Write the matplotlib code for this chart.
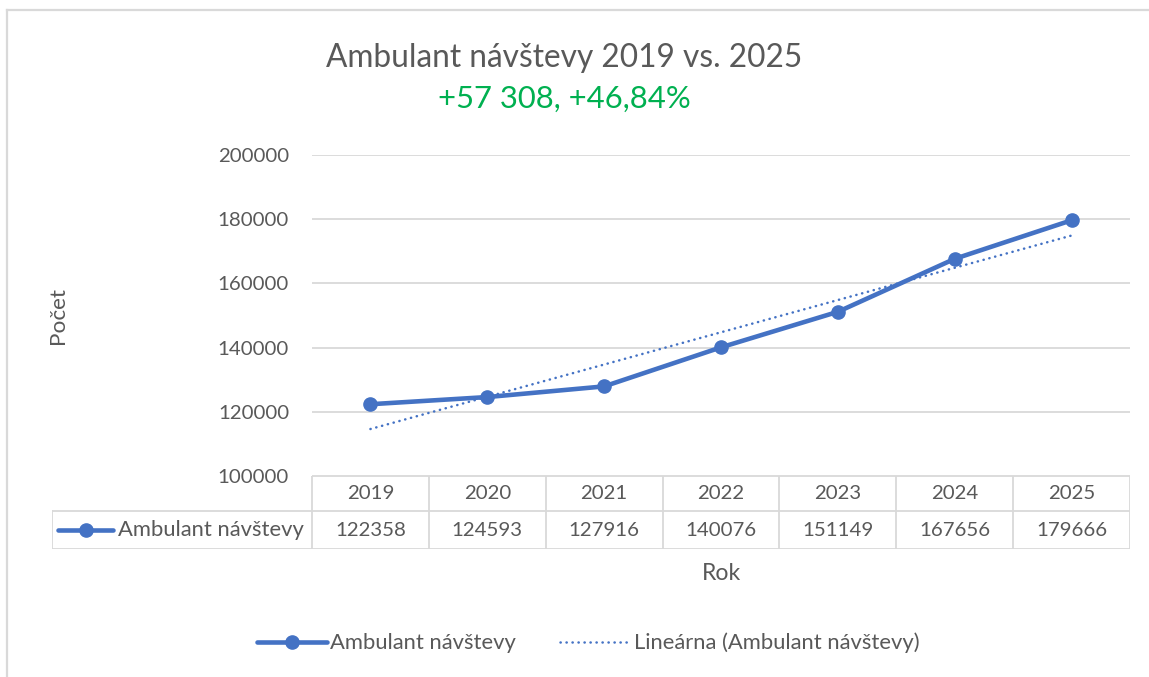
import matplotlib.pyplot as plt
import numpy as np
from matplotlib.lines import Line2D

years = ["2019", "2020", "2021", "2022", "2023", "2024", "2025"]
visits = [122358, 124593, 127916, 140076, 151149, 167656, 179666]
y_ticks = [100000, 120000, 140000, 160000, 180000, 200000]

BLUE = "#4472C4"
GREY_TEXT = "#595959"
GRID = "#D9D9D9"
GREEN = "#00B050"

plt.rcParams["font.family"] = ["Lato", "DejaVu Sans"]

W, H = 1149, 677
fig = plt.figure(figsize=(W / 100, H / 100), dpi=100)


def fx(px):
    return px / W


def fy(py):
    return 1 - py / H


# chart frame (cropped on right and bottom)
fig.add_artist(Line2D([fx(7), fx(7)], [fy(10), 0], color=GRID, lw=1.6))
fig.add_artist(Line2D([fx(7), 1], [fy(10), fy(10)], color=GRID, lw=1.6))

ax = fig.add_axes([fx(312), fy(476), fx(1130) - fx(312), fy(155) - fy(476)])
x = np.arange(len(years))
ax.plot(x, visits, color=BLUE, lw=3.3, marker="o", ms=9.5, solid_capstyle="round",
        zorder=3, label="Ambulant návštevy")
coef = np.polyfit(x, visits, 1)
ax.plot(x, np.polyval(coef, x), color=BLUE, lw=1.8, linestyle=(0, (0.1, 2.3)),
        dash_capstyle="round", zorder=2, label="Lineárna (Ambulant návštevy)")

ax.set_xlim(-0.5, len(years) - 0.5)
ax.set_ylim(y_ticks[0], y_ticks[-1])
ax.set_yticks(y_ticks)
ax.set_yticklabels([str(v) for v in y_ticks])
ax.set_xticks([])
ax.tick_params(axis="y", length=0, pad=16.5, labelsize=14.7, labelcolor=GREY_TEXT)
for s in ax.spines.values():
    s.set_visible(False)
ax.grid(True, axis="y", color=GRID, lw=1.3)
ax.set_axisbelow(True)

# data table under the plot
tab = fig.add_axes([fx(52), fy(549), fx(1130) - fx(52), fy(476) - fy(549)])
unit = (1130 - 312) / len(years)
left = -0.5 - (312 - 52) / unit
tab.set_xlim(left, len(years) - 0.5)
tab.set_ylim(0, 73)
tab.axis("off")
mid = 38
for i in range(len(years) + 1):
    tab.plot([i - 0.5, i - 0.5], [0, 73], color=GRID, lw=1.3)
tab.plot([-0.5, len(years) - 0.5], [73, 73], color=GRID, lw=1.3)
tab.plot([left, len(years) - 0.5], [mid, mid], color=GRID, lw=1.3)
tab.plot([left, len(years) - 0.5], [0, 0], color=GRID, lw=1.3)
tab.plot([left, left], [0, mid], color=GRID, lw=1.3)
for i, (yr, v) in enumerate(zip(years, visits)):
    tab.text(i, (73 + mid) / 2, yr, ha="center", va="center", fontsize=14.7, color=GREY_TEXT)
    tab.text(i, mid / 2, str(v), ha="center", va="center", fontsize=14.7, color=GREY_TEXT)
key_l = left + 6 / unit
key_r = left + 61 / unit
tab.plot([key_l, key_r], [mid / 2, mid / 2], color=BLUE, lw=3.3, solid_capstyle="round")
tab.plot([(key_l + key_r) / 2], [mid / 2], "o", color=BLUE, ms=9.5)
tab.text(left + 66 / unit, mid / 2, "Ambulant návštevy", ha="left", va="center",
         fontsize=15.8, color=GREY_TEXT)

# titles and axis labels
fig.text(fx(564), fy(58), "Ambulant návštevy 2019 vs. 2025", ha="center", va="center",
         fontsize=22.8, color=GREY_TEXT)
fig.text(fx(564), fy(99), "+57 308, +46,84%", ha="center", va="center",
         fontsize=22.3, color=GREEN)
fig.text(fx(58), fy(315), "Počet", rotation=90, ha="center", va="center",
         fontsize=16.2, color=GREY_TEXT)
fig.text(fx(721), fy(573), "Rok", ha="center", va="center", fontsize=16.6, color=GREY_TEXT)

handles, labels = ax.get_legend_handles_labels()
fig.legend(handles, labels, loc="center", bbox_to_anchor=(fx(588), fy(643)), ncol=2,
           frameon=False, fontsize=15.8, labelcolor=GREY_TEXT, handlelength=3.2,
           handletextpad=0.15, columnspacing=2.0)

fig.savefig("out.png", dpi=100, facecolor="white")
